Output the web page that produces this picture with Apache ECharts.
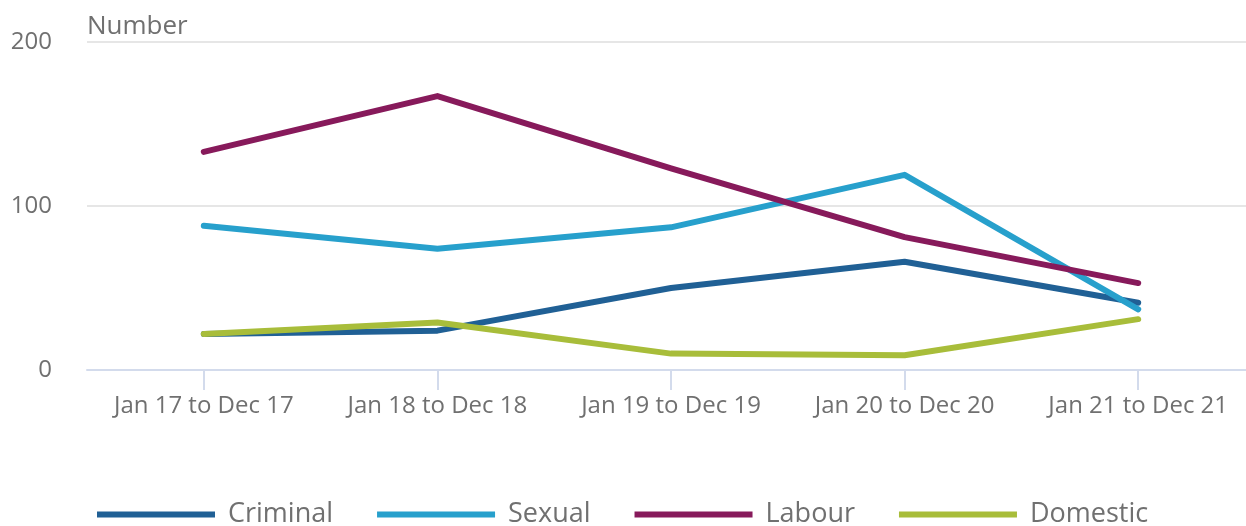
<!DOCTYPE html>
<html>
<head>
<meta charset="utf-8">
<style>
  html, body { margin: 0; padding: 0; background: #fff; overflow: hidden; }
  #chart { width: 1255px; height: 526px; }
</style>
<script src="https://cdn.jsdelivr.net/npm/echarts@6/dist/echarts.min.js"></script>
</head>
<body>
<div id="chart"></div>
<script>
// Reporting periods
const categories = ['Jan 17 to Dec 17', 'Jan 18 to Dec 18', 'Jan 19 to Dec 19', 'Jan 20 to Dec 20', 'Jan 21 to Dec 21'];

// Number of cases by type of exploitation
const criminal = [22, 24, 50, 66, 41];
const sexual   = [88, 74, 87, 119, 37];
const labour   = [133, 167, 123, 81, 53];
const domestic = [22, 29, 10, 9, 31];

const yTicks = { min: 0, max: 200, interval: 100 };

const colors = {
  Criminal: '#206095',
  Sexual: '#27a0cc',
  Labour: '#871a5b',
  Domestic: '#a8bd3a'
};

const textColor = '#707070';
const fontFamily = '"Open Sans", "Noto Sans", sans-serif';

function lineSeries(name, data) {
  return {
    name: name,
    type: 'line',
    data: data,
    symbol: 'none',
    smooth: false,
    lineStyle: { width: 6, color: colors[name], cap: 'round', join: 'round' },
    itemStyle: { color: colors[name] }
  };
}

const chart = echarts.init(document.getElementById('chart'), null, { renderer: 'canvas' });
chart.setOption({
  animation: false,
  backgroundColor: '#ffffff',
  textStyle: { fontFamily: fontFamily },
  grid: { left: 87, top: 42, right: 0, bottom: 156, containLabel: false },
  xAxis: {
    type: 'category',
    data: categories,
    boundaryGap: true,
    axisLine: { show: true, lineStyle: { color: '#d3dbec', width: 2 } },
    axisTick: { show: true, alignWithLabel: true, length: 20, lineStyle: { color: '#d3dbec', width: 2 } },
    axisLabel: { color: textColor, fontSize: 24, margin: 24, interval: 0, fontFamily: fontFamily },
    splitLine: { show: false }
  },
  yAxis: {
    type: 'value',
    min: yTicks.min,
    max: yTicks.max,
    interval: yTicks.interval,
    name: 'Number',
    nameLocation: 'end',
    nameGap: 2,
    nameTextStyle: { color: textColor, fontSize: 26, align: 'left', fontFamily: fontFamily },
    axisLine: { show: false },
    axisTick: { show: false },
    axisLabel: { color: textColor, fontSize: 24, margin: 35, fontFamily: fontFamily },
    splitLine: { show: true, lineStyle: { color: '#e6e6e6', width: 2 } }
  },
  legend: {
    bottom: -2,
    left: 97,
    padding: 0,
    icon: 'rect',
    itemWidth: 118,
    itemHeight: 6,
    itemGap: 44,
    textStyle: { color: textColor, fontSize: 27, fontFamily: fontFamily, padding: [0, 0, 0, 8] },
    data: ['Criminal', 'Sexual', 'Labour', 'Domestic']
  },
  series: [
    lineSeries('Criminal', criminal),
    lineSeries('Sexual', sexual),
    lineSeries('Labour', labour),
    lineSeries('Domestic', domestic)
  ]
});
</script>
</body>
</html>
